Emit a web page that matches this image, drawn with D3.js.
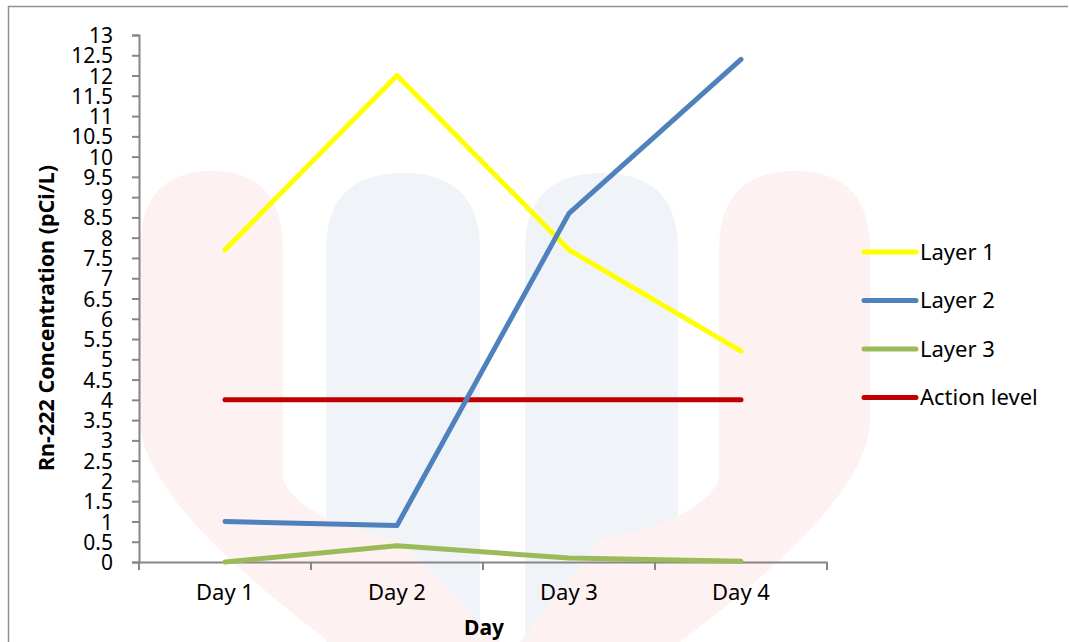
<!DOCTYPE html>
<meta charset="utf-8">
<script src="https://d3js.org/d3.v7.min.js"></script>
<style>
  body { margin: 0; background: #fff; }
  text { font-family: "Noto Sans", "Open Sans", sans-serif; fill: #000; }
</style>
<div id="chart"></div>
<script>

// data
var days = ["Day 1", "Day 2", "Day 3", "Day 4"];
var layer1 = [7.7, 12.0, 7.7, 5.2];
var layer2 = [1.0, 0.9, 8.6, 12.4];
var layer3 = [0.0, 0.4, 0.1, 0.02];
var action = [4, 4, 4, 4];
var seriesNames = ["Layer 1", "Layer 2", "Layer 3", "Action level"];
var seriesColors = ["#FFFF00", "#4F81BD", "#9BBB59", "#C00000"];
var yTicks = d3.range(0, 13.01, 0.5);

var W = 1069, H = 642;
var svg = d3.select("#chart").append("svg")
    .attr("width", W)
    .attr("height", H);

// faint watermark behind the plot
var wm = svg.append("g");
wm.append("path")
  .attr("d", "M326,250 Q326,173 403,173 Q480,173 480,250 L480,642 L326,642 Z")
  .attr("fill", "#f0f4f9");
wm.append("path")
  .attr("d", "M525,250 Q525,173 602,173 Q678,173 678,250 L678,642 L525,642 Z")
  .attr("fill", "#f0f4f9");
wm.append("path")
  .attr("d", "M140,250 Q140,171 212,171 Q283,171 283,250 L283,480 Q300,520 400,540 L500,642 L330,642 Q140,500 140,420 Z")
  .attr("fill", "#fdf1f1");
wm.append("path")
  .attr("d", "M870,250 Q870,171 795,171 Q719,171 719,250 L719,480 Q700,520 600,540 L520,642 L680,642 Q870,500 870,420 Z")
  .attr("fill", "#fdf1f1");

// outer frame
svg.append("line").attr("x1", 8).attr("x2", 1068).attr("y1", 6.5).attr("y2", 6.5)
  .attr("stroke", "#8f8f8f").attr("stroke-width", 1.5);
svg.append("line").attr("x1", 8.5).attr("x2", 8.5).attr("y1", 6).attr("y2", H)
  .attr("stroke", "#8f8f8f").attr("stroke-width", 1.5);

var x = d3.scaleBand().domain(days).range([139, 827]).padding(0);
var y = d3.scaleLinear().domain([0, 13]).range([562, 35]);
var cx = function(d) { return x(d) + x.bandwidth() / 2; };

// y axis
var yAxis = svg.append("g")
  .attr("transform", "translate(139,0)")
  .call(d3.axisLeft(y).tickValues(yTicks).tickSize(7).tickPadding(19)
        .tickFormat(d3.format("")));
yAxis.select(".domain").attr("stroke", "#868686").attr("stroke-width", 2);
yAxis.selectAll(".tick line").attr("stroke", "#868686").attr("stroke-width", 2);
yAxis.selectAll(".tick text").style("font-size", "21px").attr("fill", "#000")
  .attr("font-family", "Noto Sans").attr("dy", "0.36em");

// x axis: labels in the middle, tick marks between categories
var xAxis = svg.append("g")
  .attr("transform", "translate(0,562)")
  .call(d3.axisBottom(x).tickSize(0).tickPadding(22));
xAxis.select(".domain").attr("stroke", "#868686").attr("stroke-width", 2);
xAxis.selectAll(".tick text").style("font-size", "22px").attr("fill", "#000")
  .attr("font-family", "Noto Sans");
svg.append("g").selectAll("line")
  .data(days.map(function(d) { return x(d); }).concat([x.range()[1]]))
  .enter().append("line")
    .attr("x1", function(d) { return d; }).attr("x2", function(d) { return d; })
    .attr("y1", 562).attr("y2", 570)
    .attr("stroke", "#868686").attr("stroke-width", 2);

// axis titles
svg.append("text")
  .attr("transform", "translate(54,318) rotate(-90)")
  .attr("text-anchor", "middle")
  .style("font-size", "21.5px").style("font-weight", "bold")
  .text("Rn-222 Concentration (pCi/L)");
svg.append("text")
  .attr("x", 484).attr("y", 635)
  .attr("text-anchor", "middle")
  .style("font-size", "21px").style("font-weight", "bold")
  .text("Day");

// lines
var allSeries = [layer1, layer2, layer3, action];
var line = d3.line()
  .x(function(d, i) { return cx(days[i]); })
  .y(function(d) { return y(d); });
// action level drawn first so layers cross over it like the reference
[3, 0, 1, 2].forEach(function(k) {
  svg.append("path")
    .datum(allSeries[k])
    .attr("d", line)
    .attr("fill", "none")
    .attr("stroke", seriesColors[k])
    .attr("stroke-width", 5)
    .attr("stroke-linecap", "round")
    .attr("stroke-linejoin", "round");
});

// legend
var leg = svg.append("g");
seriesNames.forEach(function(name, i) {
  var yy = 252 + i * 48.5;
  leg.append("line")
    .attr("x1", 864).attr("x2", 916).attr("y1", yy).attr("y2", yy)
    .attr("stroke", seriesColors[i]).attr("stroke-width", 5)
    .attr("stroke-linecap", "round");
  leg.append("text")
    .attr("x", 920).attr("y", yy).attr("dy", "0.36em")
    .style("font-size", "22px")
    .text(name);
});

</script>
